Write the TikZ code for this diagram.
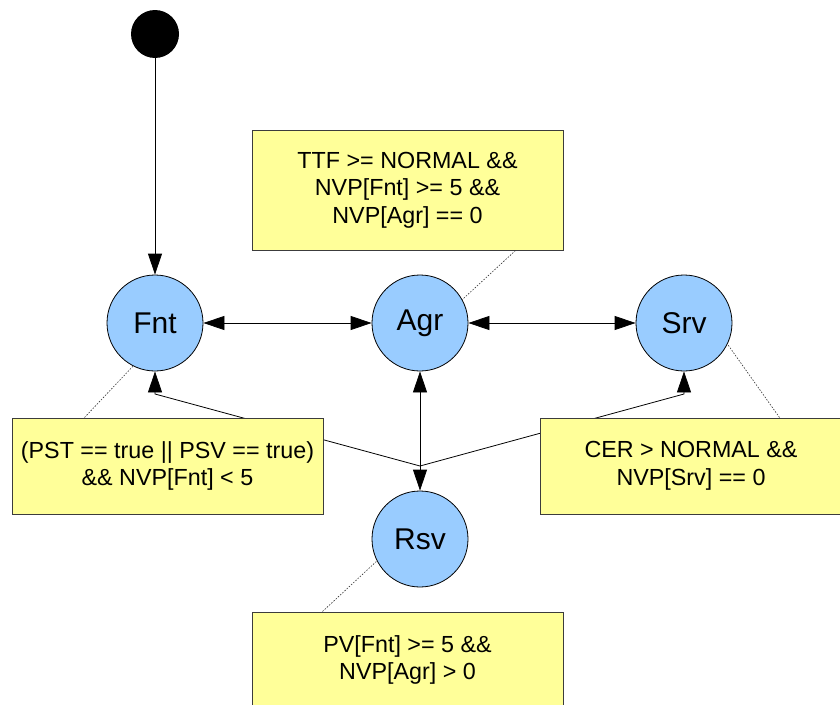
\documentclass[tikz,border=0pt]{standalone}
\usepackage{fontspec}
\setmainfont{Liberation Sans}
\usetikzlibrary{arrows.meta,calc}
\definecolor{stateblue}{RGB}{153,204,255}
\definecolor{noteyellow}{RGB}{255,255,153}
\definecolor{noteborder}{RGB}{60,60,60}
\begin{document}
\begin{tikzpicture}[x=1pt,y=-1pt,
  state/.style={circle,draw=black,line width=0.8pt,fill=stateblue,minimum size=96pt,inner sep=0pt,font=\fontsize{30}{33}\selectfont},
  startnode/.style={circle,fill=black,minimum size=48pt,inner sep=0pt},
  note/.style={rectangle,draw=noteborder,line width=1pt,fill=noteyellow,align=center,inner sep=0pt,font=\fontsize{23.3}{27.5}\selectfont},
  trans/.style={line width=0.8pt,-{Triangle[length=21pt,width=14pt]}},
  bitrans/.style={line width=0.8pt,{Triangle[length=21pt,width=14pt]}-{Triangle[length=21pt,width=14pt]}},
  notelink/.style={line width=0.6pt,draw=black!80,dash pattern=on 1.5pt off 1.5pt}]
\useasboundingbox (0,0) rectangle (840,704);
\fill[white] (0,0) rectangle (840,704);
% states
\node[startnode] (start) at (155,34) {};
\node[state] (Fnt) at (155,323) {Fnt};
\node[state] (Agr) at (420,323) {Agr};
\node[state] (Srv) at (684,323) {Srv};
\node[state] (Rsv) at (420,539) {Rsv};
% transitions
\draw[trans] (start) -- (Fnt);
\draw[bitrans] (Fnt) -- (Agr);
\draw[bitrans] (Agr) -- (Srv);
\draw[bitrans] (Agr) -- (Rsv);
\coordinate (j) at (420,466);
\coordinate (jl) at (155,394);
\coordinate (jr) at (684,394);
\draw[trans] (j) -- (jl) -- (Fnt);
\draw[trans] (j) -- (jr) -- (Srv);
% notes
\node[note,minimum width=311pt,minimum height=120pt] (topbox) at (407.5,190)
  {TTF >= NORMAL \&\&\\NVP[Fnt] >= 5 \&\&\\NVP[Agr] == 0};
\node[note,minimum width=311pt,minimum height=96pt] (leftbox) at (167.5,466)
  {(PST == true || PSV == true)\\\&\& NVP[Fnt] < 5};
\node[note,minimum width=302pt,minimum height=96pt] (rightbox) at (691,466)
  {CER > NORMAL \&\&\\NVP[Srv] == 0};
\node[note,minimum width=311pt,minimum height=96pt] (bottombox) at (407.5,660)
  {PV[Fnt] >= 5 \&\&\\NVP[Agr] > 0};
% note links
\draw[notelink] ($(topbox.south west)+(264,0)$) -- (Agr.29);
\draw[notelink] ($(leftbox.north west)+(73,0)$) -- (Fnt.243);
\draw[notelink] ($(rightbox.north west)+(240,0)$) -- (Srv.334);
\draw[notelink] ($(bottombox.north west)+(71,0)$) -- (Rsv.207);
\end{tikzpicture}
\end{document}
